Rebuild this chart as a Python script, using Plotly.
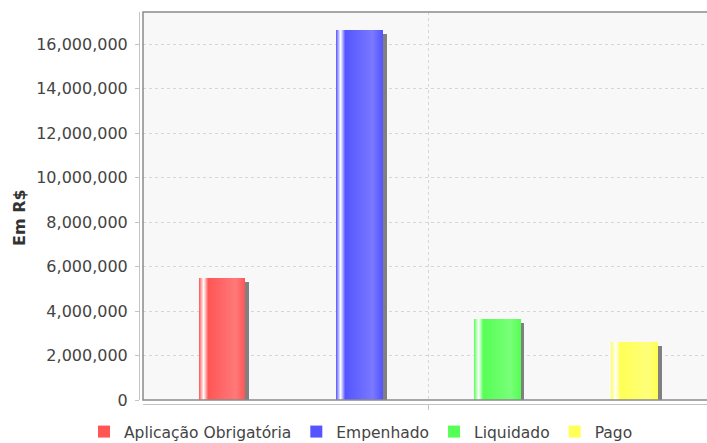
import plotly.graph_objects as go

# ---- data ----
series_names = ["Aplicação Obrigatória", "Empenhado", "Liquidado", "Pago"]
values = [5_505_000, 16_615_000, 3_627_000, 2_620_000]
y_title = "Em R$"
y_max = 17_440_000
y_step = 2_000_000

# ---- style ----
base_rgb = [(255, 85, 85), (85, 85, 255), (85, 255, 85), (255, 255, 85)]
FONT = "DejaVu Sans"
W, H = 707, 443
ML, MR, MT, MB = 139, 0, 12, 39
paper_w = W - ML - MR
paper_h = H - MT - MB
axis_off = 4  # px gap between axis lines and data area

plot_left_px = ML + axis_off
px_per_unit = 137.6
first_center_px = 222.0
bar_w_px = 46.0
shadow_px = 4.0
bar_w = bar_w_px / px_per_unit
x_range = [-(first_center_px - plot_left_px) / px_per_unit,
           (W - first_center_px) / px_per_unit]
data_h_px = paper_h - axis_off
val_per_px = y_max / data_h_px

x = list(range(len(series_names)))


def brighter(c):
    return tuple(min(255, int(v / 0.7)) for v in c)


def lerp(a, b, t):
    return tuple(a[i] + (b[i] - a[i]) * t for i in range(3))


def grad_color(c0, f):
    white = (255, 255, 255)
    c1 = brighter(c0)
    if f < 0.1:
        c = lerp(c0, white, f / 0.1)
    elif f < 0.2:
        c = lerp(white, c0, (f - 0.1) / 0.1)
    elif f < 0.8:
        c = lerp(c0, c1, (f - 0.2) / 0.6)
    else:
        c = lerp(c1, c0, (f - 0.8) / 0.2)
    return "rgb(%d,%d,%d)" % tuple(round(v) for v in c)


fig = go.Figure()

# shadows
fig.add_trace(go.Bar(
    x=x, y=values, base=[-shadow_px * val_per_px] * len(x),
    offset=-bar_w / 2 + shadow_px / px_per_unit, width=bar_w,
    marker=dict(color="rgb(128,128,128)", line=dict(width=0)),
    showlegend=False, hoverinfo="skip"))

# main bars (legend entries)
for i, name in enumerate(series_names):
    fig.add_trace(go.Bar(
        x=[x[i]], y=[values[i]], name=name,
        offset=-bar_w / 2, width=bar_w,
        marker=dict(color="rgb(%d,%d,%d)" % base_rgb[i], line=dict(width=0)),
        showlegend=True))

# gradient slices
N = 46
step = bar_w / N
for k in range(N):
    f = (k + 0.5) / N
    w = step * (1.7 if k < N - 1 else 1.0)
    fig.add_trace(go.Bar(
        x=x, y=values, offset=-bar_w / 2 + k * step, width=w,
        marker=dict(color=[grad_color(c, f) for c in base_rgb], line=dict(width=0)),
        showlegend=False, hoverinfo="skip"))

grid_col = "#d6d6d6"
axis_col = "#c4c4c4"
txt_col = "#444444"

fig.update_layout(
    width=W, height=H,
    margin=dict(l=ML, r=MR, t=MT, b=MB, pad=0, autoexpand=False),
    paper_bgcolor="white", plot_bgcolor="#f8f8f8",
    barmode="overlay", bargap=0,
    font=dict(family=FONT, size=16, color=txt_col),
    xaxis=dict(domain=[axis_off / paper_w, 1], range=x_range,
               anchor="free", position=0,
               showline=True, linecolor=axis_col, linewidth=1,
               ticks="outside", ticklen=5, tickcolor=axis_col,
               tickvals=[(len(x) - 1) / 2], showticklabels=False,
               showgrid=True, gridcolor=grid_col, griddash="3px,3px",
               zeroline=False, fixedrange=True),
    yaxis=dict(domain=[axis_off / paper_h, 1], range=[0, y_max],
               anchor="free", position=0,
               showline=True, linecolor=axis_col, linewidth=1,
               ticks="outside", ticklen=4, tickcolor=axis_col,
               tick0=0, dtick=y_step, tickformat=",d",
               tickfont=dict(family=FONT, size=16, color=txt_col),
               ticklabelstandoff=4,
               showgrid=True, gridcolor=grid_col, griddash="3px,3px",
               zeroline=False, fixedrange=True),
    legend=dict(orientation="h", x=(361 - ML) / paper_w, xanchor="center",
                y=-(415 - (H - MB)) / paper_h, yanchor="top",
                font=dict(family=FONT, size=15.5, color=txt_col),
                bgcolor="rgba(0,0,0,0)", tracegroupgap=0),
    annotations=[dict(text="<b>" + y_title + "</b>", textangle=-90,
                      xref="paper", yref="paper",
                      x=(19 - ML) / paper_w, y=((H - MB) - 218) / paper_h,
                      xanchor="center", yanchor="middle", showarrow=False,
                      font=dict(family=FONT, size=16, color="#333333"))],
    shapes=[dict(type="rect", xref="paper", yref="paper", layer="above",
                 x0=axis_off / paper_w, x1=1.05, y0=axis_off / paper_h, y1=1,
                 line=dict(color="#8a8a8a", width=1.5))],
)

fig.write_html("out.html", include_plotlyjs=True)
